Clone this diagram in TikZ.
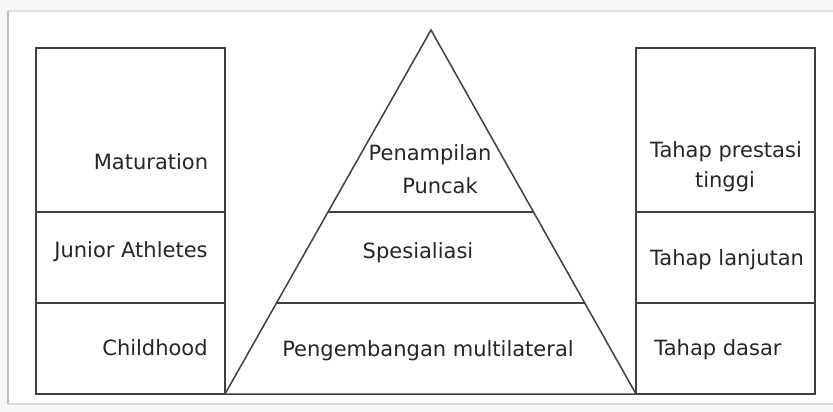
\documentclass[tikz,border=0pt]{standalone}
\usepackage{fontspec}
\setmainfont{DejaVu Sans}
\begin{document}
\begin{tikzpicture}[x=1pt,y=-1pt,
  box/.style={draw=black!75,line width=1.5pt},
  lbl/.style={font=\fontsize{21}{25}\selectfont,inner sep=0pt,text=black!85,align=center}]
\useasboundingbox (0,0) rectangle (833,412);
% frame
\fill[black!3] (0,0) rectangle (833,412);
\fill[white] (8,11) rectangle (833,404);
\draw[black!12,line width=1.5pt] (8,11) -- (833,11);
\draw[black!25,line width=2pt] (8,11) -- (8,404);
\draw[black!15,line width=2pt] (8,404) -- (833,404);
% coordinates
\coordinate (LT) at (36,48); \coordinate (LB) at (225,394);
\coordinate (RT) at (636,48); \coordinate (RB) at (815,394);
\coordinate (apex) at (431,30);
\coordinate (BL) at (225,394); \coordinate (BR) at (636,394);
% left column
\draw[box] (LT) rectangle (LB);
\draw[box] (36,212) -- (225,212);
\draw[box] (36,303) -- (225,303);
% right column
\draw[box] (RT) rectangle (RB);
\draw[box] (636,212) -- (815,212);
\draw[box] (636,303) -- (815,303);
% pyramid
\draw[box,line join=miter] (BL) -- (apex) -- (BR) -- cycle;
\draw[box] (328,212) -- (534,212);
\draw[box] (277,303) -- (585,303);
% labels
\node[lbl] (mat) at (151,162) {Maturation};
\node[lbl] (jun) at (131,252) {Junior Athletes};
\node[lbl] (chi) at (155,348) {Childhood};
\node[lbl] (pen1) at (430,155) {Penampilan};
\node[lbl] (pen2) at (440,186) {Puncak};
\node[lbl] (spe) at (418,253) {Spesialiasi};
\node[lbl] (pmu) at (428,351) {Pengembangan multilateral};
\node[lbl] (tp1) at (726,152) {Tahap prestasi};
\node[lbl] (tp2) at (725,182) {tinggi};
\node[lbl] (tl) at (727,260) {Tahap lanjutan};
\node[lbl] (td) at (718,350) {Tahap dasar};
\end{tikzpicture}
\end{document}
